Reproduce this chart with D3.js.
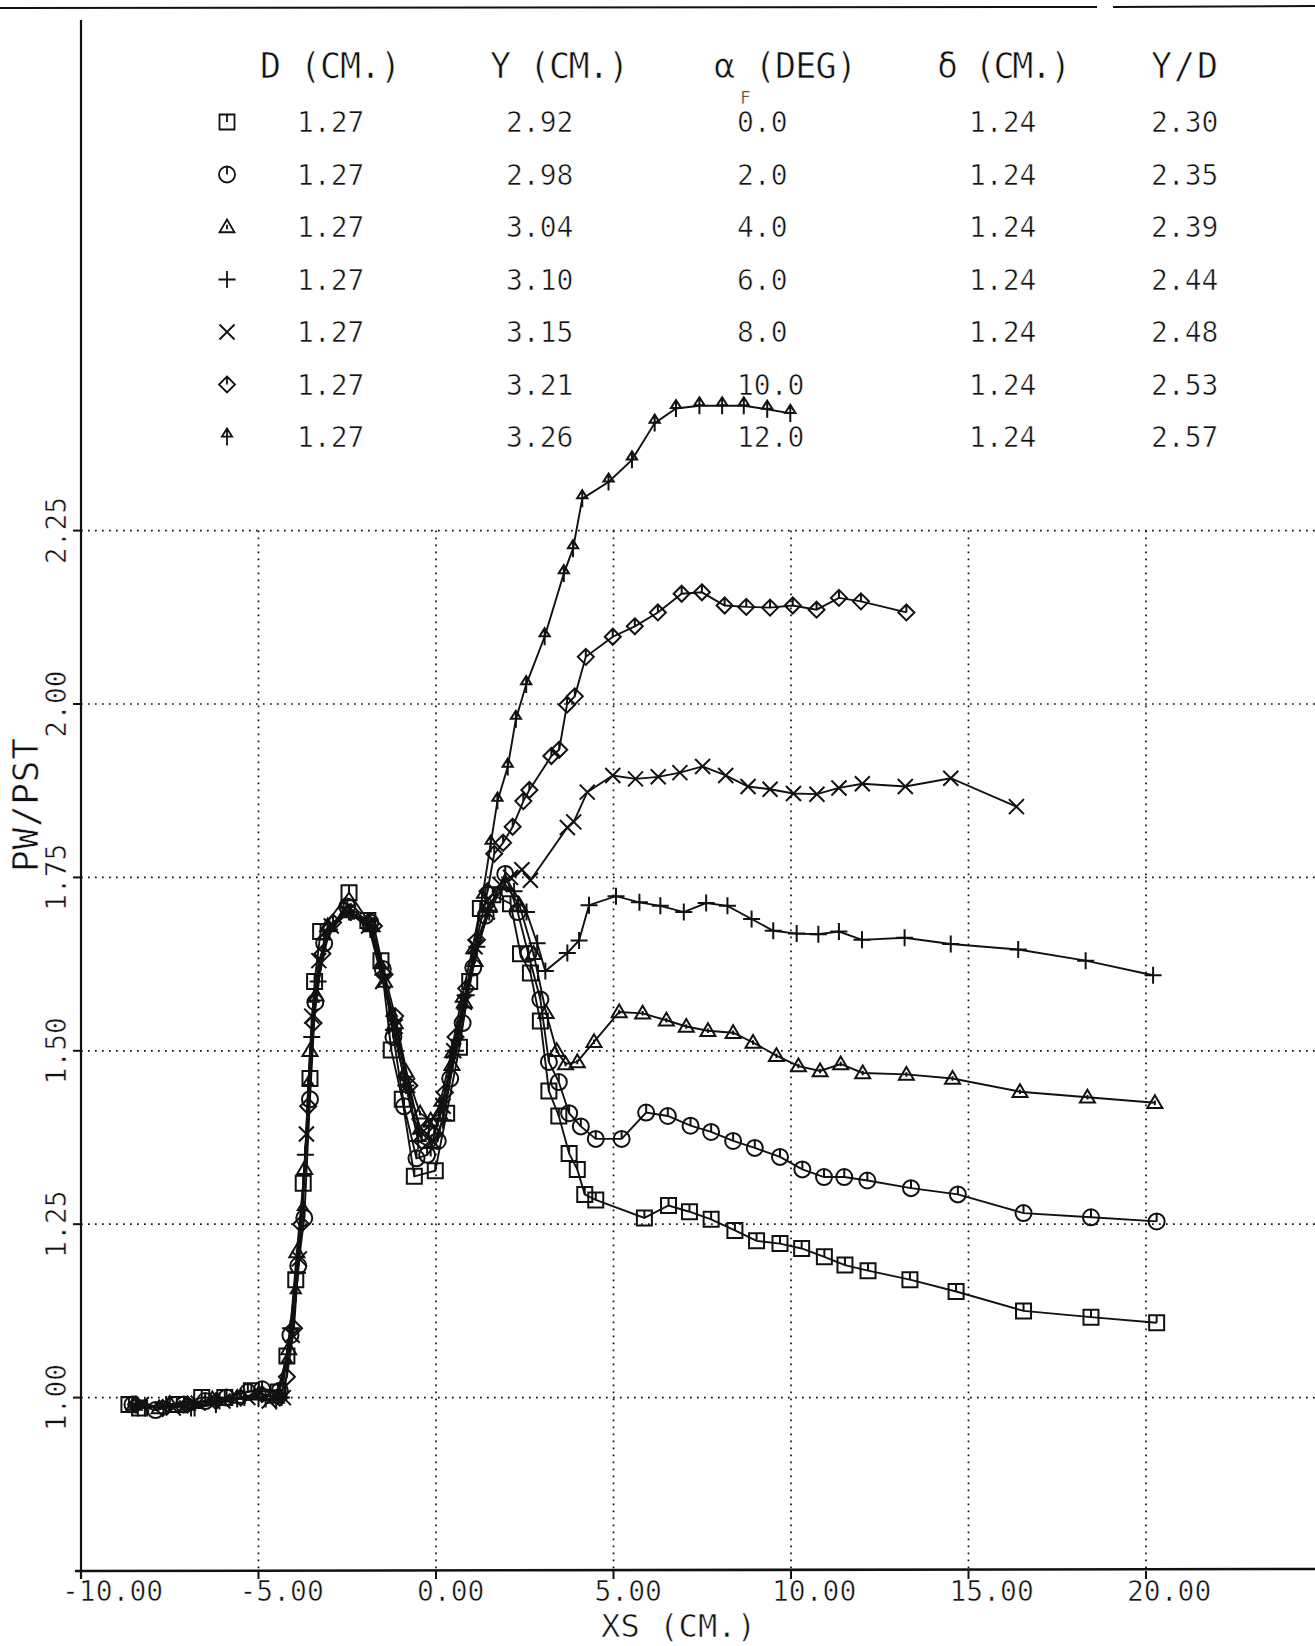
<!DOCTYPE html>
<html lang="en">
<head>
<meta charset="UTF-8">
<title>PW/PST vs XS</title>
<script src="https://d3js.org/d3.v7.min.js"></script>
<style>
  body { margin: 0; background: #fff; }
  svg { display: block; }
  text { font-family: "DejaVu Sans Mono", monospace; fill: #111; stroke: #fff; stroke-width: 0.6px; }
</style>
</head>
<body>
<svg width="1315" height="1646"></svg>
<script>
// ---- data ----
const xTicks = [-10, -5, 0, 5, 10, 15, 20];
const xTickLabels = ["-10.00", "-5.00", "0.00", "5.00", "10.00", "15.00", "20.00"];
const yTicks = [1.00, 1.25, 1.50, 1.75, 2.00, 2.25];
const yTickLabels = ["1.00", "1.25", "1.50", "1.75", "2.00", "2.25"];

const markerTypes = ["square", "circle", "triangle", "plus", "cross", "diamond", "arrow"];
const colD = ["1.27", "1.27", "1.27", "1.27", "1.27", "1.27", "1.27"];
const colY = ["2.92", "2.98", "3.04", "3.10", "3.15", "3.21", "3.26"];
const colAlpha = ["0.0", "2.0", "4.0", "6.0", "8.0", "10.0", "12.0"];
const colDelta = ["1.24", "1.24", "1.24", "1.24", "1.24", "1.24", "1.24"];
const colYD = ["2.30", "2.35", "2.39", "2.44", "2.48", "2.53", "2.57"];

// [XS, PW/PST] for each angle
const a00 = [[-8.65,0.990],[-8.35,0.985],[-7.3,0.99],[-6.6,1.0],[-5.95,1.0],[-5.2,1.01],[-4.45,1.008],[-4.2,1.06],[-3.95,1.17],[-3.74,1.309],[-3.55,1.46],[-3.42,1.60],[-3.25,1.672],[-2.45,1.728],[-1.92,1.688],[-1.55,1.63],[-1.26,1.501],[-0.95,1.43],[-0.61,1.319],[-0.02,1.327],[0.3,1.41],[0.66,1.505],[0.95,1.60],[1.25,1.705],[1.6,1.725],[2.1,1.712],[2.38,1.64],[2.66,1.612],[2.94,1.543],[3.18,1.442],[3.46,1.406],[3.75,1.352],[3.98,1.329],[4.19,1.293],[4.5,1.285],[5.87,1.259],[6.55,1.277],[7.14,1.268],[7.75,1.257],[8.42,1.241],[9.03,1.226],[9.69,1.222],[10.3,1.215],[10.94,1.203],[11.52,1.191],[12.17,1.183],[13.35,1.170],[14.65,1.153],[16.55,1.125],[18.45,1.116],[20.3,1.108]];
const a02 = [[-8.55,0.99],[-7.9,0.982],[-7.1,0.99],[-6.5,0.995],[-5.9,1.0],[-5.3,1.008],[-4.9,1.012],[-4.4,1.01],[-4.1,1.09],[-3.88,1.19],[-3.71,1.259],[-3.55,1.43],[-3.4,1.57],[-3.15,1.655],[-2.5,1.708],[-1.85,1.685],[-1.5,1.618],[-1.2,1.52],[-0.9,1.42],[-0.55,1.345],[-0.25,1.35],[0.05,1.37],[0.4,1.46],[0.75,1.54],[1.05,1.62],[1.4,1.695],[1.95,1.755],[2.3,1.70],[2.6,1.64],[2.94,1.574],[3.18,1.484],[3.46,1.455],[3.75,1.41],[4.08,1.391],[4.5,1.373],[5.23,1.373],[5.92,1.411],[6.53,1.406],[7.17,1.392],[7.75,1.383],[8.37,1.370],[8.98,1.360],[9.69,1.347],[10.32,1.329],[10.93,1.318],[11.5,1.318],[12.15,1.313],[13.38,1.302],[14.7,1.293],[16.55,1.266],[18.45,1.260],[20.3,1.254]];
const a04 = [[-8.5,0.99],[-7.8,0.985],[-7.0,0.99],[-6.3,0.998],[-5.6,1.0],[-5.0,1.005],[-4.5,1.0],[-4.15,1.07],[-3.92,1.21],[-3.7,1.33],[-3.55,1.50],[-3.38,1.58],[-3.05,1.68],[-2.5,1.70],[-1.8,1.68],[-1.45,1.60],[-1.15,1.54],[-0.85,1.47],[-0.45,1.41],[-0.15,1.40],[0.1,1.41],[0.45,1.48],[0.8,1.57],[1.1,1.63],[1.5,1.71],[1.95,1.74],[2.35,1.71],[2.75,1.64],[3.1,1.555],[3.4,1.50],[3.65,1.481],[3.98,1.484],[4.45,1.513],[5.16,1.556],[5.82,1.554],[6.49,1.544],[7.05,1.535],[7.66,1.529],[8.37,1.526],[8.93,1.512],[9.59,1.493],[10.21,1.478],[10.82,1.471],[11.4,1.481],[12.02,1.468],[13.25,1.466],[14.55,1.460],[16.45,1.441],[18.35,1.433],[20.25,1.425]];
const a06 = [[-8.4,0.985],[-7.6,0.99],[-6.8,0.985],[-6.1,0.995],[-5.4,1.0],[-4.8,0.998],[-4.35,1.0],[-4.1,1.10],[-3.9,1.18],[-3.68,1.35],[-3.5,1.52],[-3.32,1.60],[-3.0,1.675],[-2.45,1.70],[-1.85,1.675],[-1.5,1.61],[-1.2,1.53],[-0.85,1.45],[-0.5,1.37],[-0.15,1.36],[0.2,1.40],[0.55,1.50],[0.85,1.58],[1.15,1.65],[1.5,1.70],[1.85,1.735],[2.2,1.73],[2.55,1.70],[2.85,1.655],[3.08,1.615],[3.70,1.641],[4.03,1.659],[4.31,1.710],[5.07,1.723],[5.73,1.714],[6.32,1.709],[6.98,1.700],[7.61,1.713],[8.21,1.709],[8.89,1.690],[9.5,1.673],[10.16,1.669],[10.77,1.668],[11.35,1.672],[12.0,1.660],[13.2,1.663],[14.5,1.654],[16.4,1.646],[18.3,1.630],[20.2,1.609]];
const a08 = [[-8.3,0.99],[-7.4,0.985],[-6.7,0.992],[-6.0,0.995],[-5.3,1.0],[-4.7,0.995],[-4.3,1.0],[-4.05,1.09],[-3.85,1.20],[-3.65,1.38],[-3.5,1.55],[-3.3,1.63],[-2.95,1.68],[-2.5,1.70],[-1.9,1.68],[-1.5,1.60],[-1.15,1.535],[-0.8,1.45],[-0.45,1.39],[-0.1,1.37],[0.2,1.42],[0.5,1.50],[0.8,1.57],[1.1,1.65],[1.45,1.70],[1.8,1.74],[2.1,1.75],[2.42,1.761],[2.66,1.746],[3.7,1.822],[3.88,1.83],[4.26,1.873],[4.98,1.897],[5.62,1.892],[6.26,1.895],[6.87,1.901],[7.51,1.910],[8.16,1.897],[8.79,1.881],[9.41,1.877],[10.07,1.871],[10.73,1.870],[11.35,1.879],[12.01,1.885],[13.22,1.881],[14.5,1.893],[16.35,1.852]];
const a10 = [[-8.45,0.99],[-7.7,0.985],[-7.0,0.99],[-6.2,0.995],[-5.5,1.0],[-4.9,1.005],[-4.4,1.0],[-4.2,1.03],[-4.0,1.10],[-3.8,1.25],[-3.6,1.42],[-3.45,1.54],[-3.2,1.64],[-2.9,1.685],[-2.4,1.70],[-1.75,1.68],[-1.45,1.61],[-1.15,1.55],[-0.75,1.45],[-0.4,1.37],[-0.05,1.38],[0.25,1.44],[0.55,1.52],[0.85,1.59],[1.15,1.66],[1.45,1.73],[1.64,1.784],[1.89,1.80],[2.16,1.823],[2.46,1.860],[2.63,1.876],[3.25,1.925],[3.47,1.934],[3.69,1.999],[3.91,2.011],[4.22,2.068],[4.98,2.097],[5.6,2.112],[6.25,2.132],[6.92,2.159],[7.49,2.161],[8.13,2.142],[8.74,2.140],[9.41,2.139],[10.05,2.142],[10.72,2.136],[11.35,2.153],[11.97,2.148],[13.25,2.132]];
const a12 = [[-8.2,0.985],[-7.5,0.99],[-6.9,0.985],[-6.2,0.99],[-5.6,0.998],[-5.0,1.0],[-4.5,0.995],[-4.2,1.05],[-3.95,1.15],[-3.75,1.27],[-3.6,1.45],[-3.45,1.57],[-3.15,1.66],[-2.6,1.705],[-1.9,1.685],[-1.55,1.62],[-1.25,1.55],[-0.9,1.46],[-0.5,1.38],[-0.2,1.39],[0.1,1.42],[0.4,1.49],[0.7,1.57],[1.0,1.64],[1.3,1.72],[1.54,1.798],[1.73,1.860],[2.02,1.909],[2.25,1.978],[2.54,2.028],[3.06,2.097],[3.60,2.188],[3.86,2.224],[4.12,2.296],[4.86,2.320],[5.52,2.352],[6.16,2.405],[6.76,2.426],[7.42,2.430],[8.06,2.430],[8.67,2.430],[9.33,2.425],[9.98,2.419]];

const series = [a00, a02, a04, a06, a08, a10, a12];

// ---- layout ----
const svg = d3.select('svg');
const x = d3.scaleLinear().domain([-10, 25]).range([81, 81 + 35 * 35.5]);
const y = d3.scaleLinear().domain([0.75, 3.0]).range([1571, 1571 - 2.25 * 693.6]);

// plotter style marker outlines, centred on 0,0
function markerPath(type, s) {
  switch (type) {
    case "square":
      return `M${-s},${-s}H${s}V${s}H${-s}ZM0,${-s}V0`;
    case "circle":
      return `M${s},0A${s},${s} 0 1 1 ${-s},0A${s},${s} 0 1 1 ${s},0M0,${-s}V0`;
    case "triangle":
      return `M0,${-s}L${s},${s * 0.7}H${-s}ZM0,${-s * 0.3}V${s * 0.3}`;
    case "plus":
      return `M${-s},0H${s}M0,${-s}V${s}`;
    case "cross":
      return `M${-s},${-s}L${s},${s}M${s},${-s}L${-s},${s}`;
    case "diamond":
      return `M0,${-s}L${s},0L0,${s}L${-s},0ZM0,${-s}V0`;
    case "arrow":
      return `M0,${-s}L${s * 0.6},${-s * 0.05}H${-s * 0.6}ZM0,${-s}V${s}`;
  }
}
const markerSize = { square: 7.5, circle: 8, triangle: 7.5, plus: 8.5, cross: 7.5, diamond: 8, arrow: 8.5 };

// frame lines from the plot sheet
svg.append('line').attr('x1', 0).attr('x2', 1097).attr('y1', 8).attr('y2', 7)
  .attr('stroke', '#111').attr('stroke-width', 2);
svg.append('line').attr('x1', 1113).attr('x2', 1315).attr('y1', 7).attr('y2', 6)
  .attr('stroke', '#111').attr('stroke-width', 2);

// dotted grid
const grid = svg.append('g').attr('stroke', '#111').attr('stroke-width', 1.7)
  .attr('stroke-dasharray', '1.7,5.3');
grid.selectAll('.hg').data(yTicks).enter().append('line')
  .attr('x1', x(-10)).attr('x2', 1315)
  .attr('y1', d => y(d)).attr('y2', d => y(d));
grid.selectAll('.vg').data(xTicks.slice(1)).enter().append('line')
  .attr('x1', d => x(d)).attr('x2', d => x(d))
  .attr('y1', y(2.25)).attr('y2', y(0.75));

// axes
svg.append('line').attr('x1', x(-10)).attr('x2', x(-10)).attr('y1', 20).attr('y2', y(0.75) + 8)
  .attr('stroke', '#111').attr('stroke-width', 2.2);
svg.append('line').attr('x1', x(-10) - 6).attr('x2', 1315).attr('y1', y(0.75)).attr('y2', y(0.75) - 2)
  .attr('stroke', '#111').attr('stroke-width', 2.6);

svg.selectAll('.yt').data(yTicks).enter().append('line')
  .attr('x1', x(-10) - 8).attr('x2', x(-10))
  .attr('y1', d => y(d)).attr('y2', d => y(d))
  .attr('stroke', '#111').attr('stroke-width', 2);
svg.selectAll('.xt').data(xTicks).enter().append('line')
  .attr('x1', d => x(d)).attr('x2', d => x(d))
  .attr('y1', y(0.75)).attr('y2', y(0.75) + 8)
  .attr('stroke', '#111').attr('stroke-width', 2);

svg.selectAll('.xl').data(xTicks).enter().append('text')
  .attr('x', d => x(d) - 19).attr('y', 1601)
  .attr('font-size', 28)
  .text((d, i) => xTickLabels[i]);
svg.selectAll('.yl').data(yTicks).enter().append('text')
  .attr('transform', d => `translate(66,${y(d)}) rotate(-90)`)
  .attr('text-anchor', 'middle')
  .attr('font-size', 28)
  .text((d, i) => yTickLabels[i]);

svg.append('text').attr('x', 601).attr('y', 1637).attr('font-size', 32)
  .attr('textLength', 155).text('XS (CM.)');
svg.append('text').attr('transform', 'translate(38,805) rotate(-90)')
  .attr('text-anchor', 'middle').attr('font-size', 36)
  .attr('textLength', 134).text('PW/PST');

// curves and markers
const line = d3.line().x(d => x(d[0])).y(d => y(d[1]));
const curves = svg.append('g');
series.forEach((pts, i) => {
  const t = markerTypes[i];
  curves.append('path').datum(pts)
    .attr('fill', 'none').attr('stroke', '#111').attr('stroke-width', 1.9)
    .attr('d', line);
  curves.selectAll('.m' + i).data(pts).enter().append('path')
    .attr('transform', d => `translate(${x(d[0])},${y(d[1])})`)
    .attr('d', markerPath(t, markerSize[t]))
    .attr('fill', 'none').attr('stroke', '#111').attr('stroke-width', 2);
});

// legend table
const headers = [
  { t: 'D (CM.)', x: 260, w: 141 },
  { t: 'Y (CM.)', x: 490, w: 139 },
  { t: 'α (DEG)', x: 714, w: 143 },
  { t: 'δ (CM.)', x: 937, w: 134 },
  { t: 'Y/D', x: 1151, w: 67 }
];
const lg = svg.append('g');
lg.selectAll('.hd').data(headers).enter().append('text')
  .attr('x', d => d.x).attr('y', 78).attr('font-size', 35)
  .attr('textLength', d => d.w)
  .text(d => d.t);
lg.append('text').attr('x', 740).attr('y', 104).attr('font-size', 18).text('F');

const rowY = d3.scaleLinear().domain([0, 6]).range([122, 437]);
const cols = [
  { vals: colD, x: 297 },
  { vals: colY, x: 506 },
  { vals: colAlpha, x: 737 },
  { vals: colDelta, x: 969 },
  { vals: colYD, x: 1151 }
];
cols.forEach(c => {
  lg.selectAll(null).data(c.vals).enter().append('text')
    .attr('x', c.x).attr('y', (d, i) => rowY(i) + 10)
    .attr('font-size', 28)
    .text(d => d);
});
lg.selectAll('.lm').data(markerTypes).enter().append('path')
  .attr('transform', (d, i) => `translate(227,${rowY(i)})`)
  .attr('d', d => markerPath(d, markerSize[d]))
  .attr('fill', 'none').attr('stroke', '#111').attr('stroke-width', 1.8);
</script>
</body>
</html>
